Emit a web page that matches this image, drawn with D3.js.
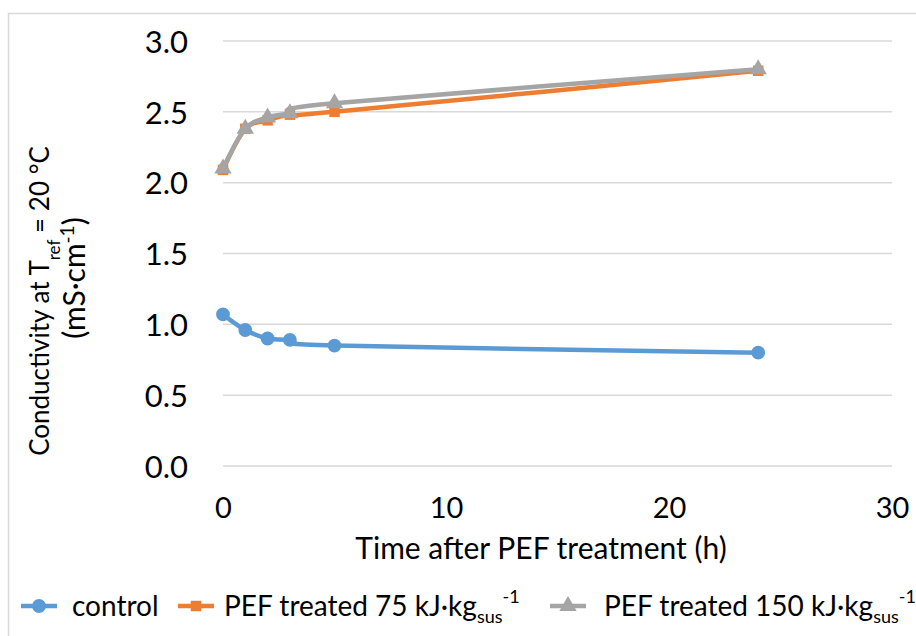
<!DOCTYPE html>
<html>
<head>
<meta charset="utf-8">
<script src="https://cdn.jsdelivr.net/npm/d3@7"></script>
<style>
  body { margin: 0; background: #fff; }
  text { font-family: Lato, "Open Sans", sans-serif; fill: #000; }
</style>
</head>
<body>
<div id="chart"></div>
<script>
// Conductivity after PEF treatment.
const hours = [0, 1, 2, 3, 5, 24];
const control = [1.07, 0.96, 0.90, 0.89, 0.85, 0.80];
const pef75 = [2.09, 2.38, 2.44, 2.48, 2.50, 2.79];
const pef150 = [2.10, 2.38, 2.46, 2.49, 2.56, 2.80];
const yTicks = [0, 0.5, 1.0, 1.5, 2.0, 2.5, 3.0];
const xTicks = [0, 10, 20, 30];

let width = 916, height = 636;

let svg = d3.select("#chart").append("svg")
    .attr("width", width)
    .attr("height", height);

// Chart area border (top and left visible)
svg.append("rect")
    .attr("x", 8.5).attr("y", 13.5)
    .attr("width", 930).attr("height", 640)
    .attr("fill", "none")
    .attr("stroke", "#d9d9d9")
    .attr("stroke-width", 1.5);

let x = d3.scaleLinear().domain([0, 30]).range([223, 892]);
let y = d3.scaleLinear().domain([0, 3]).range([466, 41]);

// Gridlines
svg.append("g")
  .selectAll("line")
  .data(yTicks)
  .join("line")
    .attr("x1", x(0)).attr("x2", x(30))
    .attr("y1", d => y(d)).attr("y2", d => y(d))
    .attr("stroke", "#d9d9d9")
    .attr("stroke-width", 1.5);

// Y axis labels
let yAxis = svg.append("g")
    .attr("transform", `translate(${x(0) - 35},0)`)
    .call(d3.axisLeft(y).tickValues(yTicks).tickFormat(d3.format(".1f")).tickSize(0));
yAxis.select(".domain").remove();
yAxis.selectAll("text")
    .attr("x", 0)
    .attr("dy", "0.36em")
    .style("font-size", "31px")
    .style("font-family", "Lato, sans-serif");

// X axis labels
let xAxis = svg.append("g")
    .attr("transform", `translate(0,${y(0) + 31})`)
    .call(d3.axisBottom(x).tickValues(xTicks).tickSize(0));
xAxis.select(".domain").remove();
xAxis.selectAll("text")
    .attr("y", 0)
    .attr("dy", "0.71em")
    .style("font-size", "29px")
    .style("font-family", "Lato, sans-serif");

// Axis titles
svg.append("text")
    .attr("x", 541)
    .attr("y", 559)
    .attr("text-anchor", "middle")
    .style("font-size", "30px")
    .text("Time after PEF treatment (h)");

let yt = svg.append("text")
    .attr("transform", "translate(49,301) rotate(-90)")
    .attr("text-anchor", "middle")
    .style("font-size", "26px");
yt.append("tspan").text("Conductivity at T");
yt.append("tspan").attr("baseline-shift", "sub").style("font-size", "17px").text("ref");
yt.append("tspan").text(" = 20 °C");

let yt2 = svg.append("text")
    .attr("transform", "translate(85,278) rotate(-90)")
    .attr("text-anchor", "middle")
    .style("font-size", "30px");
yt2.append("tspan").text("(mS·cm");
yt2.append("tspan").attr("baseline-shift", "super").style("font-size", "19px").text("-1");
yt2.append("tspan").text(")");

// Series
let series = [
  { name: "control", values: control, color: "#5b9bd5", marker: "circle" },
  { name: "75", values: pef75, color: "#ed7d31", marker: "square" },
  { name: "150", values: pef150, color: "#a5a5a5", marker: "triangle" }
];

let line = d3.line()
    .x(d => x(d[0]))
    .y(d => y(d[1]))
    .curve(d3.curveCatmullRom.alpha(0));

function markerPath(type) {
  if (type === "circle") return d3.symbol(d3.symbolCircle, 150)();
  if (type === "square") return d3.symbol(d3.symbolSquare, 110)();
  return d3.symbol(d3.symbolTriangle, 130)();
}

series.forEach(s => {
  let pts = hours.map((h, i) => [h, s.values[i]]);
  svg.append("path")
      .datum(pts)
      .attr("fill", "none")
      .attr("stroke", s.color)
      .attr("stroke-width", 4.5)
      .attr("stroke-linejoin", "round")
      .attr("d", line);
  svg.append("g")
    .selectAll("path")
    .data(pts)
    .join("path")
      .attr("transform", d => `translate(${x(d[0])},${y(d[1])})`)
      .attr("d", markerPath(s.marker))
      .attr("fill", s.color);
});

// Legend
let legendY = 606;
let legend = [
  { x: 21, tx: 72, color: "#5b9bd5", marker: "circle", text: ["control"] },
  { x: 178, tx: 224, color: "#ed7d31", marker: "square", text: ["PEF treated 75 kJ·kg", "sus", "-1"] },
  { x: 550, tx: 604, color: "#a5a5a5", marker: "triangle", text: ["PEF treated 150 kJ·kg", "sus", "-1"] }
];
legend.forEach(l => {
  svg.append("line")
      .attr("x1", l.x).attr("x2", l.x + 36)
      .attr("y1", legendY).attr("y2", legendY)
      .attr("stroke", l.color)
      .attr("stroke-width", 4.5);
  svg.append("path")
      .attr("transform", `translate(${l.x + 18},${legendY})`)
      .attr("d", markerPath(l.marker))
      .attr("fill", l.color);
  let t = svg.append("text")
      .attr("x", l.tx)
      .attr("y", legendY + 10)
      .style("font-size", "28px");
  t.append("tspan").text(l.text[0]);
  if (l.text.length > 1) {
    t.append("tspan").attr("dy", 7).style("font-size", "18px").text(l.text[1]);
    t.append("tspan").attr("dy", -20).style("font-size", "18px").text(l.text[2]);
  }
});
</script>
</body>
</html>
